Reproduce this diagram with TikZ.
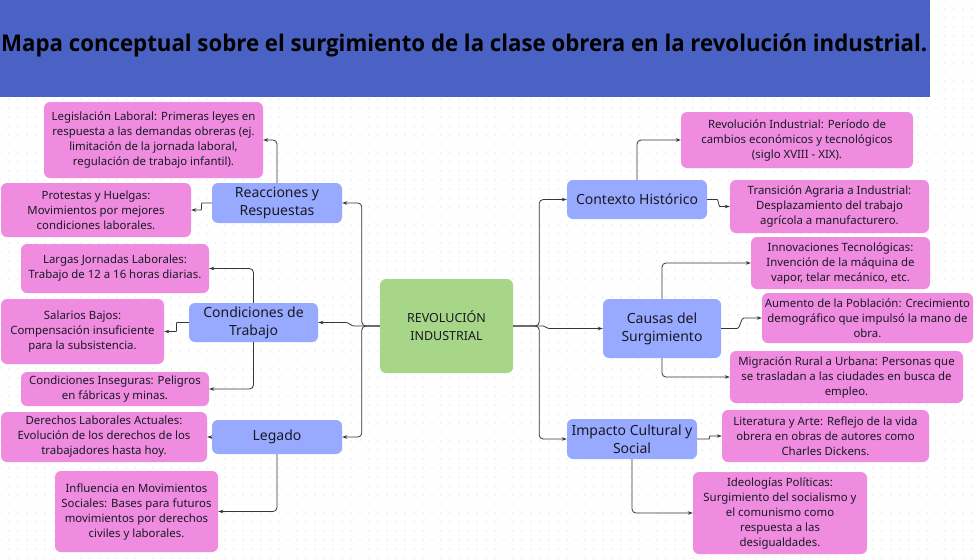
\documentclass[tikz,border=0pt]{standalone}
\usepackage{fontspec}
\setmainfont{Noto Sans}
\newfontfamily\titlefont{Open Sans}
\usetikzlibrary{arrows.meta,patterns.meta,calc}
\definecolor{titleblue}{RGB}{74,98,196}
\definecolor{boxblue}{RGB}{152,170,255}
\definecolor{boxpink}{RGB}{240,140,224}
\definecolor{boxgreen}{RGB}{168,214,136}
\definecolor{txt}{RGB}{25,25,35}
\definecolor{linec}{RGB}{55,55,55}
\tikzdeclarepattern{
  name=gdots,
  type=uncolored,
  bounding box={(-4.5pt,-4.5pt) and (4.5pt,4.5pt)},
  tile size={(9pt,9pt)},
  code={\fill (0pt,0pt) circle (0.55pt);}
}
\tikzset{
  base/.style={draw=none, rounded corners=6pt, align=center, inner sep=0pt, text=txt},
  pinkbox/.style={base, fill=boxpink, font=\fontsize{11.4pt}{15pt}\selectfont},
  bluebox/.style={base, fill=boxblue, font=\fontsize{14pt}{18pt}\selectfont},
  greenbox/.style={base, fill=boxgreen, font=\fontsize{12.5pt}{18pt}\selectfont},
  conn/.style={draw=linec, line width=0.8pt, rounded corners=4pt, -{Stealth[length=5pt,width=3.5pt]}}
}
\begin{document}
\begin{tikzpicture}[x=1pt,y=-1pt]
\useasboundingbox (0,0) rectangle (977,558);
\fill[white] (0,0) rectangle (977,558);
\fill[pattern=gdots, pattern color=gray!35] (0,0) rectangle (977,558);
% title band
\fill[titleblue] (0,0) rectangle (930,97);
\node[anchor=west, inner sep=0pt, text=black] (title) at (1,45)
  {\resizebox{926pt}{\height}{\titlefont\bfseries\fontsize{23pt}{23pt}\selectfont Mapa conceptual sobre el surgimiento de la clase obrera en la revolución industrial.}};

% center
\node[greenbox, minimum width=133pt, minimum height=94pt] (rev) at (446.5,326) {REVOLUCIÓN\\INDUSTRIAL};

% left blue
\node[bluebox, minimum width=130pt, minimum height=40pt] (rea) at (277,203) {Reacciones y\\Respuestas};
\node[bluebox, minimum width=129pt, minimum height=39pt] (con) at (253.5,322.5) {Condiciones de\\Trabajo};
\node[bluebox, minimum width=130pt, minimum height=34pt] (leg) at (277,437) {Legado};

% left pink
\node[pinkbox, minimum width=219pt, minimum height=76pt] (lgl) at (153.5,140) {Legislación Laboral: Primeras leyes en\\respuesta a las demandas obreras (ej.\\limitación de la jornada laboral,\\regulación de trabajo infantil).};
\node[pinkbox, minimum width=190pt, minimum height=54pt] (pro) at (96,210) {Protestas y Huelgas:\\Movimientos por mejores\\condiciones laborales.};
\node[pinkbox, minimum width=188pt, minimum height=49pt] (lar) at (115,268.5) {Largas Jornadas Laborales:\\Trabajo de 12 a 16 horas diarias.};
\node[pinkbox, minimum width=163pt, minimum height=65pt] (sal) at (82.5,331.5) {Salarios Bajos:\\Compensación insuficiente\\para la subsistencia.};
\node[pinkbox, minimum width=188pt, minimum height=34pt] (ins) at (115,389) {Condiciones Inseguras: Peligros\\en fábricas y minas.};
\node[pinkbox, minimum width=206pt, minimum height=50pt] (der) at (104,437) {Derechos Laborales Actuales:\\Evolución de los derechos de los\\trabajadores hasta hoy.};
\node[pinkbox, minimum width=163pt, minimum height=81pt] (inf) at (136.5,511.5) {Influencia en Movimientos\\Sociales: Bases para futuros\\movimientos por derechos\\civiles y laborales.};

% right blue
\node[bluebox, minimum width=140pt, minimum height=39pt] (ctx) at (637,199.5) {Contexto Histórico};
\node[bluebox, minimum width=118pt, minimum height=59pt] (cau) at (662,328.5) {Causas del\\Surgimiento};
\node[bluebox, minimum width=130pt, minimum height=40pt] (imp) at (632,439) {Impacto Cultural y\\Social};

% right pink
\node[pinkbox, minimum width=232pt, minimum height=56pt] (rin) at (797,140) {Revolución Industrial: Período de\\cambios económicos y tecnológicos\\(siglo XVIII - XIX).};
\node[pinkbox, minimum width=199pt, minimum height=53pt] (tra) at (829.5,206.5) {Transición Agraria a Industrial:\\Desplazamiento del trabajo\\agrícola a manufacturero.};
\node[pinkbox, minimum width=179pt, minimum height=52pt] (inn) at (840.5,263) {Innovaciones Tecnológicas:\\Invención de la máquina de\\vapor, telar mecánico, etc.};
\node[pinkbox, minimum width=211pt, minimum height=50pt] (aum) at (867.5,318) {Aumento de la Población: Crecimiento\\demográfico que impulsó la mano de\\obra.};
\node[pinkbox, minimum width=233pt, minimum height=52pt] (mig) at (846.5,377) {Migración Rural a Urbana: Personas que\\se trasladan a las ciudades en busca de\\empleo.};
\node[pinkbox, minimum width=207pt, minimum height=52pt] (lit) at (825.5,436) {Literatura y Arte: Reflejo de la vida\\obrera en obras de autores como\\Charles Dickens.};
\node[pinkbox, minimum width=174pt, minimum height=82pt] (ide) at (780,513) {Ideologías Políticas:\\Surgimiento del socialismo y\\el comunismo como\\respuesta a las\\desigualdades.};

% connectors: center to branches
\draw[conn] (rev.west) -- ++(-18,0) |- (rea.east);
\draw[conn] (rev.west) -- ++(-22,0) to[out=180,in=0] ($(con.east)+(24,0)$) -- (con.east);
\draw[conn] (rev.west) -- ++(-18,0) |- (leg.east);
\draw[conn] (rev.east) -- ++(26,0) |- (ctx.west);
\draw[conn] (rev.east) -- ++(26,0) to[out=0,in=180] ($(cau.west)+(-50,0)$) -- (cau.west);
\draw[conn] (rev.east) -- ++(26,0) |- (imp.west);

% left subbranches
\draw[conn] (rea.north) |- (lgl.east);
\draw[conn] (rea.west) -- ++(-6,0) to[out=180,in=0] ($(pro.east)+(6,0)$) -- (pro.east);
\draw[conn] (con.north) |- (lar.east);
\draw[conn] (con.west) -- ++(-8,0) to[out=180,in=0] ($(sal.east)+(8,0)$) -- (sal.east);
\draw[conn] (con.south) |- (ins.east);
\draw[conn] (leg.west) -- (der.east);
\draw[conn] (leg.south) |- (inf.east);

% right subbranches
\draw[conn] (ctx.north) |- (rin.west);
\draw[conn] (ctx.east) -- ++(6,0) to[out=0,in=180] ($(tra.west)+(-6,0)$) -- (tra.west);
\draw[conn] (cau.north) |- (inn.west);
\draw[conn] (cau.east) -- ++(12,0) to[out=0,in=180] ($(aum.west)+(-14,0)$) -- (aum.west);
\draw[conn] (cau.south) |- (mig.west);
\draw[conn] (imp.east) -- ++(8,0) to[out=0,in=180] ($(lit.west)+(-8,0)$) -- (lit.west);
\draw[conn] (imp.south) |- (ide.west);
\end{tikzpicture}
\end{document}
